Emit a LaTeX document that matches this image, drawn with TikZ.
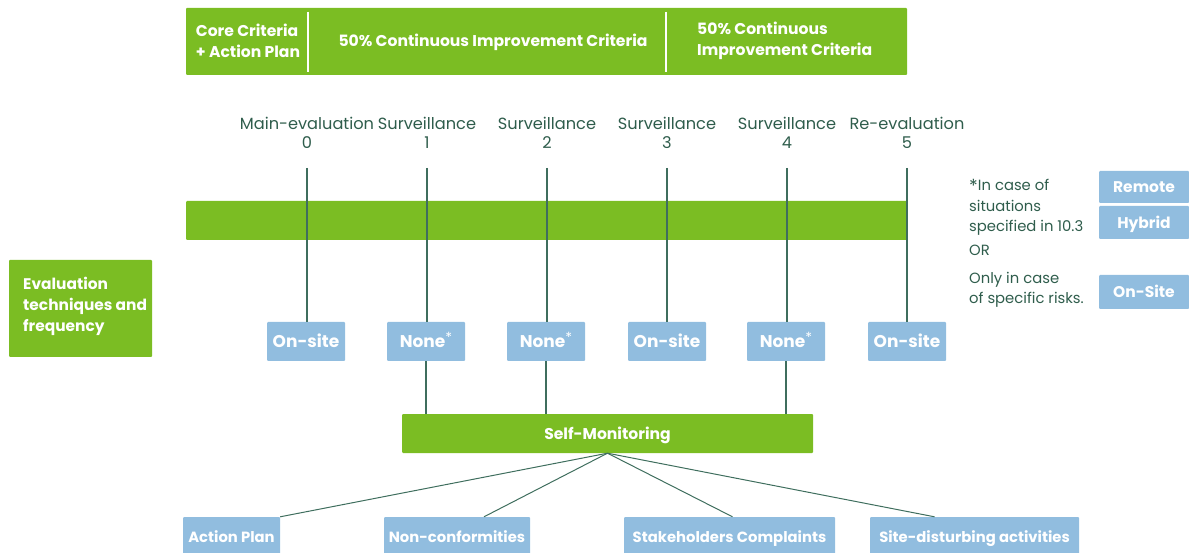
\documentclass[tikz,border=0pt]{standalone}
\usepackage{fontspec}
\setmainfont{Poppins}
\usetikzlibrary{calc}
\definecolor{gr}{HTML}{7BBD23}
\definecolor{bl}{HTML}{91BDDF}
\definecolor{dk}{HTML}{2F5D4C}
\definecolor{ln}{HTML}{3F6E5E}
\newcommand{\fs}[2]{\fontsize{#1}{#2}\selectfont}
\newcommand{\nst}{\raisebox{0.5ex}{\mdseries\fs{14}{14}*}}
\begin{document}
\begin{tikzpicture}[x=1pt,y=-1pt,
  gbox/.style={fill=gr, draw=none, text=white, font=\bfseries\fs{15.6}{21}, inner sep=0pt, rounded corners=1pt},
  bbox/.style={fill=bl, draw=none, text=white, font=\bfseries\fs{17}{18}, inner sep=0pt, rounded corners=1pt, text height=12pt, text depth=0pt},
  lab/.style={text=dk, font=\fs{16.2}{19}, align=center, inner sep=0pt},
  note/.style={text=dk, font=\fs{14.8}{20.5}, align=left, inner sep=0pt, anchor=north west},
  conn/.style={draw=ln, line width=1.3pt}]
\useasboundingbox (0,0) rectangle (1189,553);

% top bar
\node[gbox, minimum width=721pt, minimum height=67pt] (top) at (546.5,41.5) {};
\draw[white, line width=1.2pt] (308,12) -- (308,72);
\draw[white, line width=1.2pt] (666,12) -- (666,72);
\node[gbox, fill=none, align=left] (tc1) at (248,41) {Core Criteria\\+ Action Plan};
\node[gbox, fill=none, text height=11pt, text depth=0pt] (tc2) at (493,41) {50\% Continuous Improvement Criteria};
\node[gbox, fill=none, align=left, anchor=west] (tc3) at (697,41) {50\% Continuous\\Improvement Criteria};

% timeline labels
\foreach \i/\x/\t in {0/307/Main-evaluation, 1/427/Surveillance, 2/547/Surveillance, 3/667/Surveillance, 4/787/Surveillance, 5/907/Re-evaluation}{
  \node[lab] (l\i) at (\x,133) {\t\\\i};
  \coordinate (t\i) at (\x,168);
}

% green bar
\node[gbox, minimum width=721pt, minimum height=39pt] (bar) at (546.5,220.5) {};

% evaluation boxes
\node[bbox, minimum width=78pt, minimum height=39pt] (b0) at (306,341.5) {On-site};
\node[bbox, minimum width=78pt, minimum height=39pt] (b1) at (426,341.5) {None\nst};
\node[bbox, minimum width=78pt, minimum height=39pt] (b2) at (546,341.5) {None\nst};
\node[bbox, minimum width=78pt, minimum height=39pt] (b3) at (667,341.5) {On-site};
\node[bbox, minimum width=78pt, minimum height=39pt] (b4) at (786,341.5) {None\nst};
\node[bbox, minimum width=78pt, minimum height=39pt] (b5) at (907,341.5) {On-site};

\foreach \i in {0,...,5}{ \draw[conn] (t\i) -- (b\i.north -| t\i); }

% self monitoring
\node[gbox, minimum width=411pt, minimum height=39pt, text height=11pt, text depth=0pt] (sm) at (607.5,433.5) {Self-Monitoring};
\draw[conn] (b1.south) -- (b1.south |- sm.north);
\draw[conn] (b2.south) -- (b2.south |- sm.north);
\draw[conn] (b4.south) -- (b4.south |- sm.north);

% bottom boxes
\node[bbox, font=\bfseries\fs{14.8}{16}, minimum width=97pt, minimum height=38pt] (ap) at (231.5,536) {Action Plan};
\node[bbox, font=\bfseries\fs{14.8}{16}, minimum width=146pt, minimum height=38pt] (nc) at (457,536) {Non-conformities};
\node[bbox, font=\bfseries\fs{14.8}{16}, minimum width=211pt, minimum height=38pt] (sc) at (729.5,536) {Stakeholders Complaints};
\node[bbox, font=\bfseries\fs{14.8}{16}, minimum width=209pt, minimum height=38pt] (sd) at (974.5,536) {Site-disturbing activities};
\draw[conn, line width=1pt] (sm.south) -- (ap.north east);
\draw[conn, line width=1pt] (sm.south) -- ($(nc.north)+(27,0)$);
\draw[conn, line width=1pt] (sm.south) -- ($(sc.north)+(3,0)$);
\draw[conn, line width=1pt] (sm.south) -- ($(sd.north)+(-40,0)$);

% left box
\node[gbox, minimum width=143pt, minimum height=97pt] (ev) at (80.5,308.5) {};
\node[gbox, fill=none, anchor=west, align=left, font=\bfseries\fs{15.4}{21}] (evt) at (23,306) {Evaluation\\techniques and\\frequency};

% right notes
\node[note] (n1) at (969,179) {\raisebox{-0.3ex}{\fs{18}{18}*}In case of\\situations\\specified in 10.3};
\node[note] (n2) at (969,245) {OR};
\node[note, font=\fs{14.8}{20}] (n3) at (969,272) {Only in case\\of specific risks.};
\node[bbox, font=\bfseries\fs{15.5}{18}, minimum width=90pt, minimum height=32pt] (rm) at (1144,187) {Remote};
\node[bbox, font=\bfseries\fs{15.5}{18}, minimum width=90pt, minimum height=33pt] (hy) at (1144,222.5) {Hybrid};
\node[bbox, font=\bfseries\fs{15.5}{18}, minimum width=90pt, minimum height=34pt] (os) at (1144,292) {On-Site};
\end{tikzpicture}
\end{document}
